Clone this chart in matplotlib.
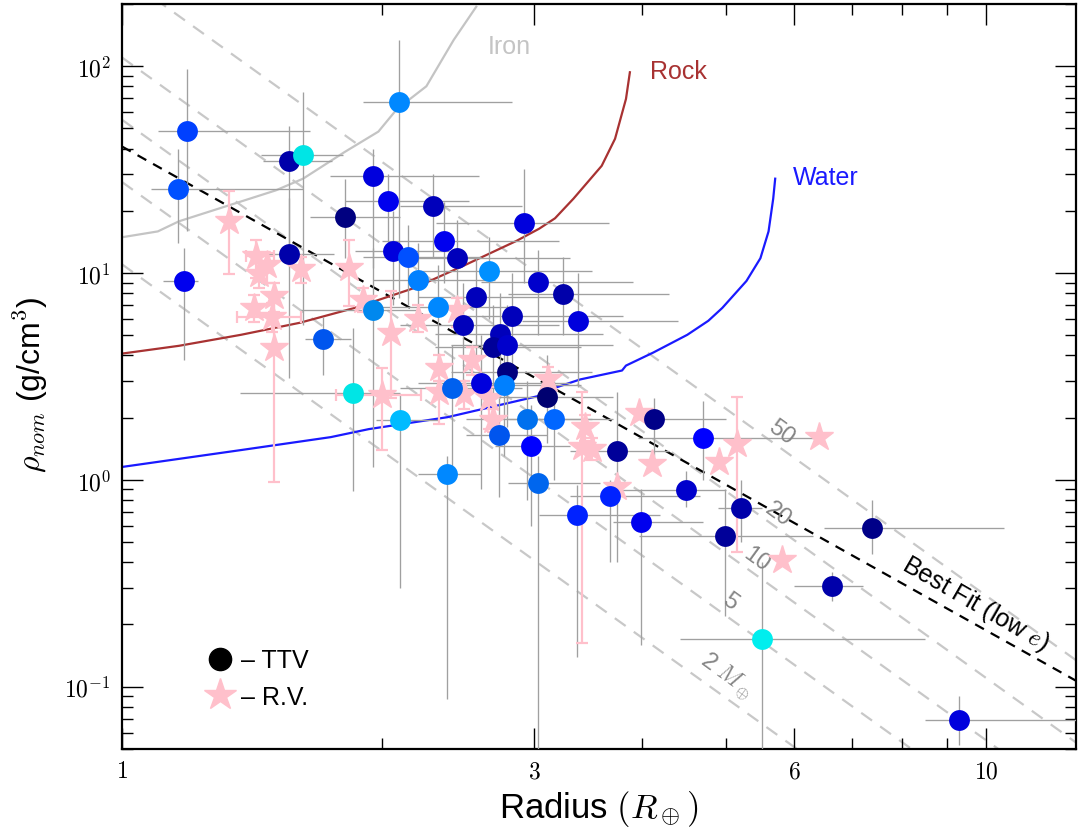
import numpy as np
import matplotlib
matplotlib.use("Agg")
import matplotlib.pyplot as plt
from matplotlib.lines import Line2D
from matplotlib.ticker import FixedLocator, FixedFormatter, NullFormatter

plt.rcParams['mathtext.fontset'] = 'cm'
plt.rcParams['font.family'] = ['Liberation Sans', 'DejaVu Sans']

# TTV planets: radius (R_earth), density (g/cm^3) and error bounds
ttv_r = [1.19, 1.16, 1.18, 1.56, 1.62, 1.56, 1.71, 1.95, 2.03, 1.81, 2.06, 1.95, 1.85, 2.09,
         2.29, 2.92, 2.36, 2.44, 2.14, 2.20, 2.66, 3.03, 3.24, 3.37, 2.57, 2.83, 2.32, 2.48,
         2.74, 2.69, 2.79, 2.79, 2.60, 2.41, 2.77, 3.10, 2.10, 2.38, 2.94, 3.16, 2.73, 2.97,
         3.03, 3.36, 3.67, 3.74, 3.99, 4.13, 4.70, 4.50, 5.21, 4.98, 7.38, 6.64, 5.51, 9.31]
ttv_rho = [48.7, 25.6, 9.15, 34.9, 37.3, 12.3, 4.82, 29.6, 22.2, 18.6, 12.8, 6.64, 2.62, 67.0,
           21.0, 17.4, 14.3, 11.8, 11.9, 9.25, 10.2, 9.05, 7.93, 5.88, 7.67, 6.21, 6.86, 5.62,
           5.09, 4.41, 4.51, 3.34, 2.93, 2.77, 2.89, 2.51, 1.94, 1.07, 1.96, 1.96, 1.65, 1.46,
           0.967, 0.679, 0.838, 1.38, 0.628, 1.96, 1.59, 0.895, 0.733, 0.538, 0.588, 0.306, 0.170, 0.0687]
ttv_r_lo = [1.10, 1.08, 1.115, 1.455, 1.45, 1.41, 1.63, 1.74, 1.81, 1.65, 1.86, 1.61, 1.37, 1.90,
            2.10, 2.31, 2.00, 2.10, 1.90, 1.95, 2.20, 2.60, 2.80, 2.90, 2.20, 2.40, 2.00, 2.10,
            2.30, 2.30, 2.40, 2.40, 2.20, 2.10, 2.40, 2.70, 1.97, 2.20, 2.50, 2.80, 2.50, 2.70,
            2.80, 3.04, 3.30, 3.30, 3.70, 3.90, 3.95, 3.60, 4.90, 3.97, 6.50, 6.00, 4.42, 8.50]
ttv_r_hi = [1.65, 1.62, 1.225, 1.75, 1.80, 1.76, 1.84, 2.59, 2.52, 2.10, 2.39, 2.21, 2.10, 2.83,
            2.90, 3.66, 3.20, 3.30, 2.60, 2.70, 3.50, 3.90, 4.30, 4.40, 3.30, 3.80, 2.80, 3.20,
            3.60, 3.40, 3.70, 3.50, 3.30, 2.90, 3.40, 3.70, 2.33, 2.60, 3.50, 3.70, 3.10, 3.30,
            3.57, 4.19, 4.66, 4.30, 4.70, 5.00, 6.50, 5.00, 5.50, 6.30, 10.5, 7.20, 8.50, 13.0]
ttv_rho_lo = [16, 14, 3.8, 12, 5.6, 3.1, 3.2, 10.6, 12, 11.8, 7, 1.15, 0.88, 7.6,
              12, 9, 9, 7, 7, 6, 6, 5, 5, 2.8, 4, 3, 3.5, 3,
              2.5, 2.2, 2.4, 1.8, 0.9, 1.0, 1.3, 1.5, 0.30, 0.0875, 0.8, 1.0, 0.83, 0.6,
              0.05, 0.14, 0.4, 0.4, 0.16, 1.3, 1.0, 0.74, 0.5, 0.22, 0.44, 0.26, 0.05, 0.052]
ttv_rho_hi = [97, 40, 13.2, 51.5, 75, 23, 6.1, 40, 30, 28.6, 20, 13.2, 5.45, 134,
              30, 32, 22, 18, 17, 14, 15, 13, 12, 10, 12, 10, 11, 9,
              8, 7, 7, 5, 5, 4.5, 4.5, 4, 2.6, 1.3, 3, 3, 2.5, 2.3,
              1.3, 0.95, 1.0, 2.65, 0.9, 2.5, 2.4, 1.1, 1.0, 0.9, 0.8, 0.36, 0.40, 0.09]
ttv_colors = ['#0040ff', '#0050ff', '#0000ee', '#0000aa', '#00e5e5', '#0000aa', '#0055ee', '#0000dd',
              '#0000ee', '#000080', '#0000dd', '#0088ee', '#00e5e5', '#0088ff', '#0000bb', '#0000dd',
              '#0000ee', '#0000bb', '#0050ff', '#0080ff', '#0090ff', '#0000cc', '#0000aa', '#0000dd',
              '#0000bb', '#0000bb', '#0088ff', '#0000bb', '#0000bb', '#000099', '#0000cc', '#000080',
              '#0000dd', '#0060ee', '#0080ff', '#000070', '#00bbff', '#0088ff', '#0070ee', '#0066ff',
              '#0055ee', '#0000ff', '#0066ee', '#0022ff', '#0022ff', '#000099', '#0000ee', '#000088',
              '#0000ff', '#0000cc', '#0000aa', '#000099', '#000088', '#0000aa', '#00eeee', '#0000dd']

# RV planets
rv_r = [1.33, 1.43, 1.47, 1.44, 1.61, 1.83, 1.50, 1.42, 1.49, 1.50, 1.90, 2.05, 2.20, 2.44, 2.33, 2.54,
        2.00, 2.33, 2.49, 2.66, 2.69, 3.11, 3.43, 3.41, 3.50, 3.97, 4.10, 3.74, 4.91, 5.15, 6.41, 5.81]
rv_rho = [17.8, 12.1, 10.9, 9.9, 10.45, 10.6, 7.75, 6.79, 6.14, 4.36, 7.42, 5.15, 6.01, 6.64, 3.49, 3.78,
          2.56, 2.65, 2.59, 2.48, 1.94, 3.09, 1.80, 1.44, 1.41, 2.10, 1.19, 0.925, 1.22, 1.49, 1.61, 0.412]
rv_r_lo = [1.33, 1.39, 1.47, 1.44, 1.61, 1.83, 1.50, 1.42, 1.36, 1.50, 1.90, 2.05, 2.20, 2.44, 2.33, 2.54,
           1.77, 2.33, 2.49, 2.66, 2.69, 3.11, 3.43, 3.41, 3.50, 3.97, 4.10, 3.74, 4.91, 5.15, 6.41, 5.81]
rv_r_hi = [1.33, 1.50, 1.47, 1.44, 1.61, 1.83, 1.50, 1.42, 1.61, 1.50, 1.90, 2.05, 2.20, 2.44, 2.33, 2.54,
           2.22, 2.33, 2.49, 2.66, 2.69, 3.11, 3.43, 3.41, 3.50, 3.97, 4.10, 3.74, 4.91, 5.15, 6.41, 5.81]
rv_rho_lo = [9.9, 9.5, 9.0, 8.5, 9.0, 6.9, 6.5, 5.8, 5.2, 0.98, 6.5, 2.5, 5.2, 5.5, 3.0, 3.2,
             1.39, 1.86, 2.2, 1.76, 1.70, 2.7, 1.55, 0.163, 1.25, 2.10, 1.19, 0.925, 1.22, 0.45, 1.61, 0.412]
rv_rho_hi = [25.0, 14.4, 12.5, 11.5, 12.0, 14.4, 9.0, 7.8, 7.2, 7.6, 8.5, 8.2, 7.0, 7.6, 4.0, 4.4,
             3.49, 3.0, 3.0, 2.8, 2.2, 3.5, 2.05, 2.65, 1.6, 2.10, 1.19, 0.925, 1.22, 2.51, 1.61, 0.412]

# composition curves
iron_r = [1.00, 1.10, 1.164, 1.506, 1.62, 1.81, 1.98, 2.08, 2.25, 2.42, 2.57]
iron_rho = [14.9, 15.9, 17.8, 25.1, 28.6, 38.5, 48.3, 62.0, 80.0, 134.0, 194.0]
rock_r = [1.00, 1.164, 1.373, 1.606, 1.86, 2.177, 2.49, 2.86, 3.04, 3.17, 3.33, 3.59, 3.72, 3.83, 3.87]
rock_rho = [4.08, 4.45, 5.03, 5.75, 6.79, 8.46, 10.9, 14.3, 16.4, 18.4, 22.9, 33.0, 44.6, 69.5, 93.5]
water_r = [1.00, 1.373, 1.744, 1.93, 2.38, 3.04, 3.18, 3.39, 3.79, 3.83, 4.12, 4.51, 4.77, 4.95,
           5.28, 5.48, 5.60, 5.67, 5.70]
water_rho = [1.155, 1.394, 1.61, 1.76, 2.01, 2.55, 2.80, 3.06, 3.38, 3.57, 4.13, 5.03, 5.88, 6.78,
             9.16, 11.8, 15.9, 22.9, 28.6]

# best fit line (low eccentricity) end points
fit_r = [1.0, 12.7]
fit_rho = [40.9, 0.107]

# constant mass lines (Earth masses)
masses = [2, 5, 10, 20, 50]
rho_earth = 5.51

fig = plt.figure(figsize=(10.78, 8.29), dpi=100)
ax = fig.add_axes([0.1132, 0.0953, 0.8848, 0.8987])
ax.set_xscale('log')
ax.set_yscale('log')
ax.set_xlim(1, 12.7)
ax.set_ylim(0.05, 200)

rgrid = np.array([1.0, 12.7])
for m in masses:
    ln, = ax.plot(rgrid, rho_earth * m / rgrid ** 3, color='#c8c8c8', lw=1.6, zorder=1)
    ln.set_dashes([6.0, 4.5])

ln, = ax.plot(fit_r, fit_rho, color='black', lw=1.6, zorder=2)
ln.set_dashes([4.5, 3.5])

ax.plot(iron_r, iron_rho, color='#c4c4c4', lw=1.6, zorder=2)
ax.plot(rock_r, rock_rho, color='#a83232', lw=1.6, zorder=2)
ax.plot(water_r, water_rho, color='#1a1aff', lw=1.6, zorder=2)

ttv_r_a = np.array(ttv_r)
ttv_rho_a = np.array(ttv_rho)
ax.errorbar(ttv_r, ttv_rho,
            xerr=[ttv_r_a - np.array(ttv_r_lo), np.array(ttv_r_hi) - ttv_r_a],
            yerr=[ttv_rho_a - np.array(ttv_rho_lo), np.array(ttv_rho_hi) - ttv_rho_a],
            fmt='none', ecolor='#a0a0a0', elinewidth=0.95, zorder=3)

rv_r_a = np.array(rv_r)
rv_rho_a = np.array(rv_rho)
ax.errorbar(rv_r, rv_rho,
            xerr=[rv_r_a - np.array(rv_r_lo), np.array(rv_r_hi) - rv_r_a],
            yerr=[rv_rho_a - np.array(rv_rho_lo), np.array(rv_rho_hi) - rv_rho_a],
            fmt='none', ecolor='pink', elinewidth=1.6, capsize=4, capthick=1.6, zorder=4)
ax.plot(rv_r, rv_rho, ls='none', marker='*', color='pink', markersize=21, mec='pink', zorder=5)

for r, rho, c in zip(ttv_r, ttv_rho, ttv_colors):
    ax.plot(r, rho, ls='none', marker='o', markersize=15, color=c, mec='none', zorder=6)

# labels of the curves
ax.text(2.65, 125, 'Iron', color='#c4c4c4', fontsize=18, ha='left', va='center')
ax.text(4.08, 94.6, 'Rock', color='#a83232', fontsize=18, ha='left', va='center')
ax.text(5.97, 29.3, 'Water', color='#1a1aff', fontsize=18, ha='left', va='center')

mass_label_col = '#858585'
ax.text(5.0, 0.113, r'2 $M_\oplus$', color=mass_label_col, fontsize=17, rotation=-36,
        ha='center', va='center')
ax.text(5.05, 0.259, '5', color=mass_label_col, fontsize=17, rotation=-36, ha='center', va='center')
ax.text(5.42, 0.413, '10', color=mass_label_col, fontsize=17, rotation=-36, ha='center', va='center')
ax.text(5.74, 0.687, '20', color=mass_label_col, fontsize=17, rotation=-36, ha='center', va='center')
ax.text(5.79, 1.70, '50', color=mass_label_col, fontsize=17, rotation=-36, ha='center', va='center')
ax.text(9.72, 0.253, r'Best Fit (low $e$)', color='black', fontsize=18, rotation=-30,
        ha='center', va='center')

# ticks
ax.xaxis.set_major_locator(FixedLocator([1, 3, 6, 10]))
ax.xaxis.set_major_formatter(FixedFormatter(['$1$', '$3$', '$6$', '$10$']))
ax.xaxis.set_minor_locator(FixedLocator([2, 4, 5, 7, 8, 9]))
ax.xaxis.set_minor_formatter(NullFormatter())
ax.yaxis.set_major_locator(FixedLocator([0.1, 1, 10, 100]))
ax.yaxis.set_major_formatter(FixedFormatter(['$10^{-1}$', '$10^{0}$', '$10^{1}$', '$10^{2}$']))
ax.yaxis.set_minor_locator(FixedLocator([k * 10.0 ** e for e in (-2, -1, 0, 1, 2) for k in range(2, 10)]))
ax.yaxis.set_minor_formatter(NullFormatter())
ax.tick_params(which='both', direction='in', top=True, right=True, labelsize=17, width=1.0)
ax.tick_params(which='major', length=15, pad=8)
ax.tick_params(which='minor', length=8)
for s in ax.spines.values():
    s.set_linewidth(1.6)

ax.set_xlabel(r'Radius $(R_\oplus)$', fontsize=25)
ax.xaxis.set_label_coords(0.5, -0.052)
ax.set_ylabel(r'$\rho_{nom}$ (g/cm$^3$)', fontsize=23)
ax.yaxis.set_label_coords(-0.076, 0.49)

handles = [Line2D([], [], ls='none', marker='o', color='black', markersize=16),
           Line2D([], [], ls='none', marker='*', color='pink', markersize=24)]
ax.legend(handles, ['\u2013 TTV', '\u2013 R.V.'], loc='upper left', bbox_to_anchor=(0.07, 0.152),
          frameon=False, fontsize=18, handletextpad=0.1, labelspacing=0.5, borderpad=0,
          handlelength=1.5)

fig.savefig('out.png', dpi=100)
